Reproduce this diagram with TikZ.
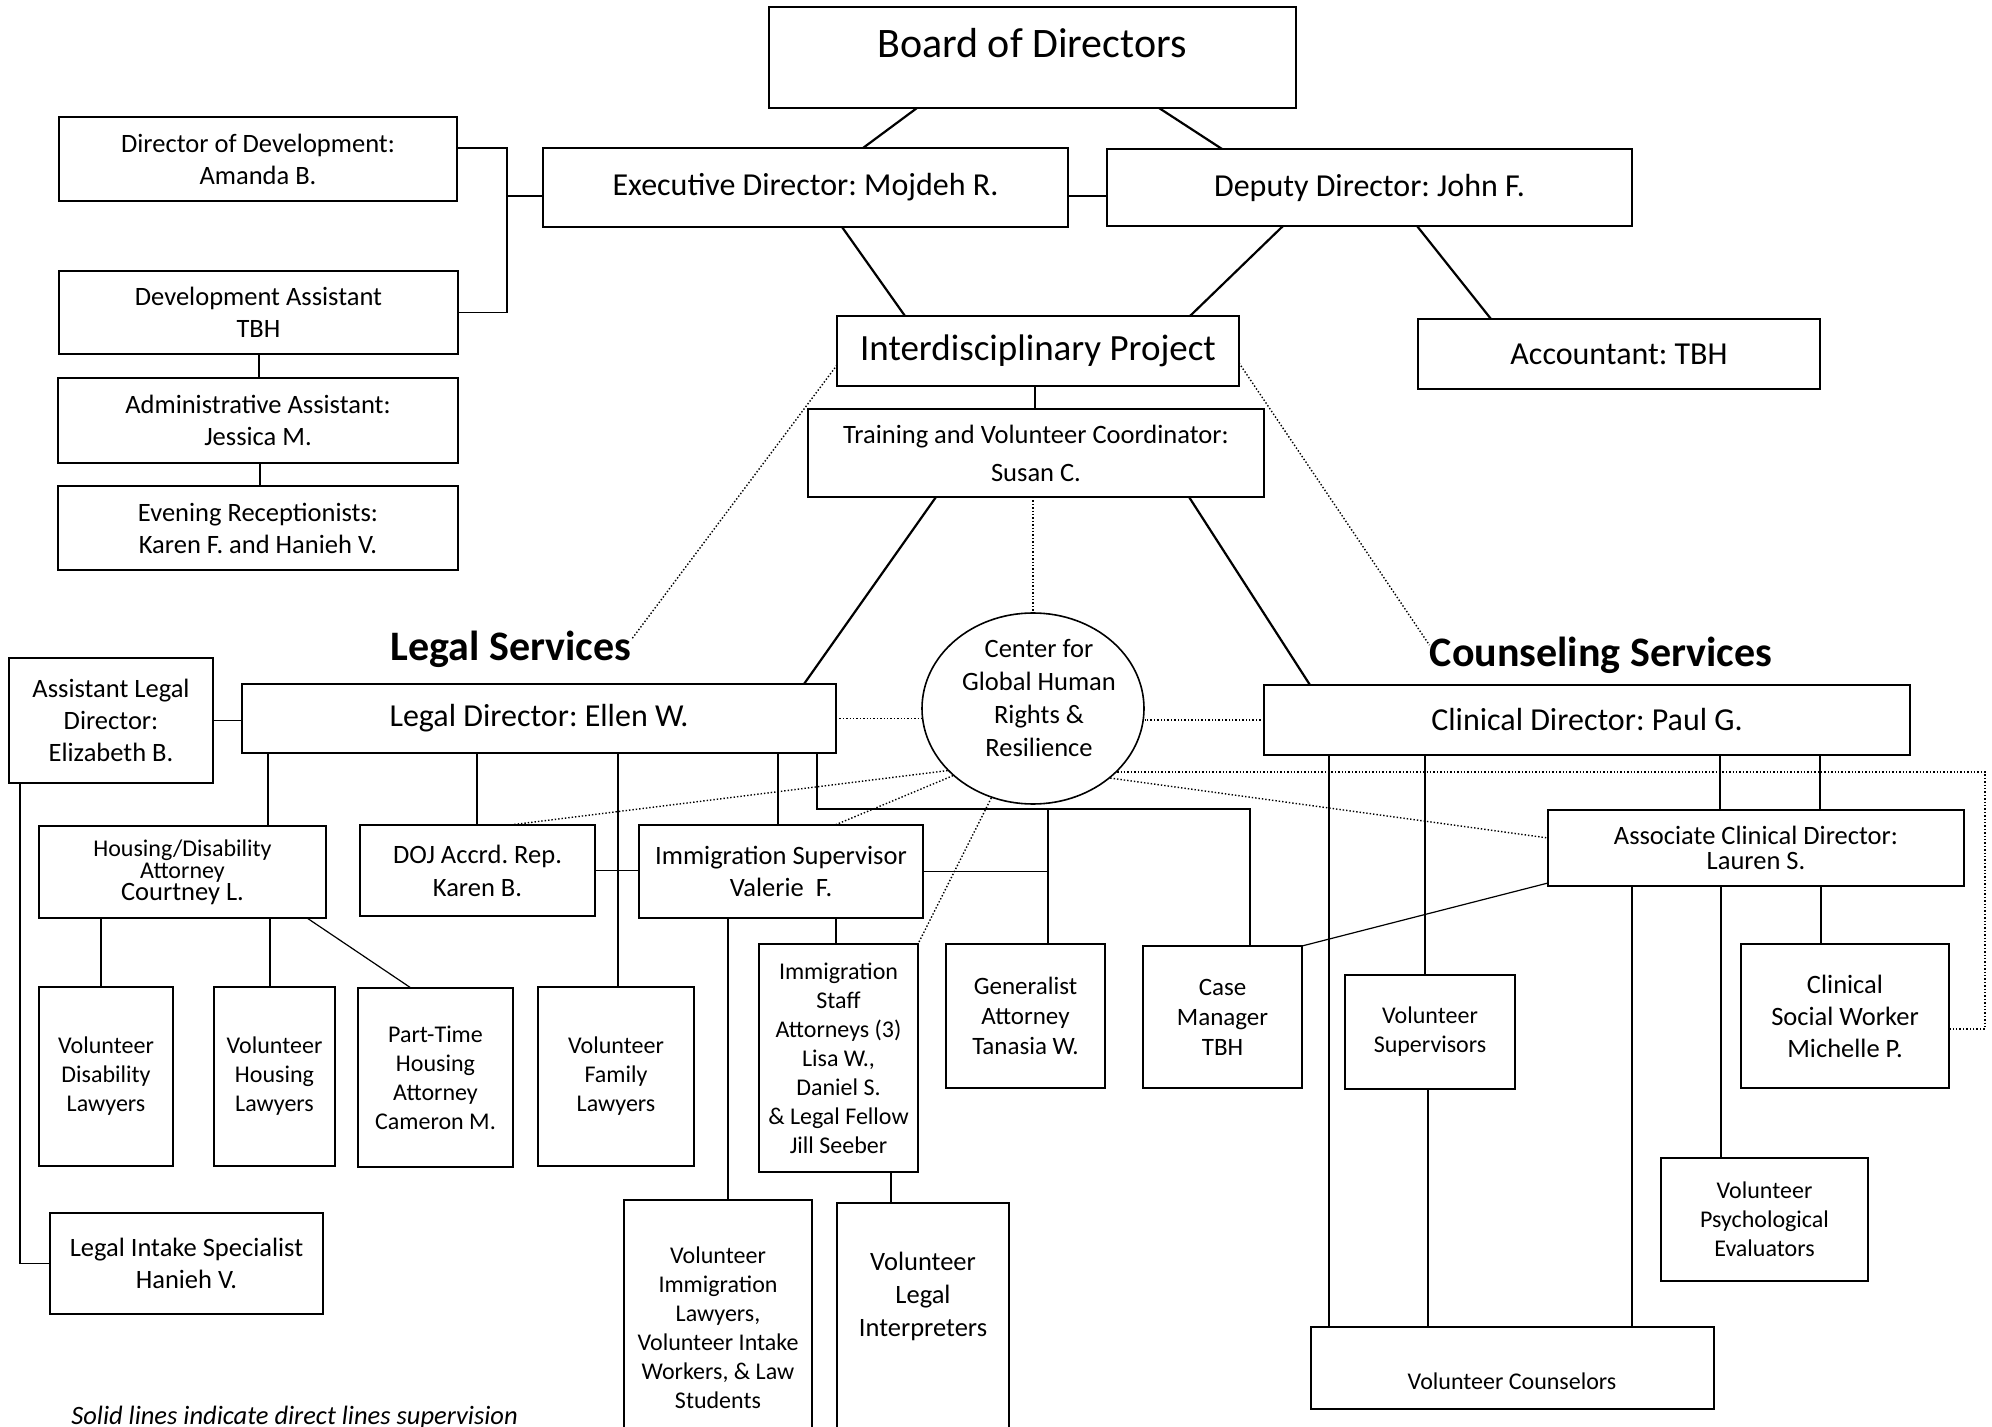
\documentclass[tikz,border=0pt]{standalone}
\usepackage{fontspec}
\setmainfont{Carlito}
\usetikzlibrary{shapes.geometric,calc}
\frenchspacing
\newcommand{\px}{0.5pt}
\newcommand{\orgbox}[7][]{%
\node[orgnode,#1,minimum width={(#5-#3)*\px},minimum height={(#6-#4)*\px}] (#2) at ({(#3+#5)/2},{(#4+#6)/2}) {#7};}

\begin{document}
\begin{tikzpicture}[x=\px,y=-\px,
  fnorm/.style={font=\fontsize{13.25}{16}\selectfont},
  fsmall/.style={font=\fontsize{12}{14.5}\selectfont},
  fmid/.style={font=\fontsize{16}{19}\selectfont},
  orgnode/.style={draw,line width=0.8pt,inner sep=0pt,outer sep=0pt,align=center,fnorm},
  link/.style={line width=0.6pt},
  mainlink/.style={line width=1.1pt},
  dotlink/.style={line width=0.7pt,densely dotted}]
\useasboundingbox (0,0) rectangle (1992,1427);
% top
\orgbox{bod}{769}{7}{1296}{108}{}
\node[font=\fontsize{21}{25}\selectfont,anchor=base] (bodtxt) at (1032,58) {Board of Directors};
\orgbox[fmid]{exec}{543}{148}{1068}{227}{Executive Director: Mojdeh R.}
\orgbox[fmid]{deputy}{1107}{149}{1632}{226}{Deputy Director: John F.}
\orgbox[fmid]{acct}{1418}{319}{1820}{389}{Accountant: TBH}
\orgbox[font=\fontsize{18.5}{22}\selectfont]{idp}{837}{316}{1239}{386}{Interdisciplinary Project}
\orgbox{train}{808}{409}{1264}{497}{Training and Volunteer Coordinator:\\[3pt]Susan C.}
\orgbox{dev}{59}{117}{457}{201}{Director of Development:\\Amanda B.}
\orgbox{devasst}{59}{271}{458}{354}{Development Assistant\\TBH}
\orgbox{admin}{58}{378}{458}{463}{Administrative Assistant:\\Jessica M.}
\orgbox{recep}{58}{486}{458}{570}{Evening Receptionists:\\Karen F. and Hanieh V.}
% legal
\node[font=\fontsize{21}{25}\selectfont\bfseries,anchor=base,inner sep=0pt] (legalhd) at (511,661) {Legal Services};
\orgbox[fmid]{legaldir}{242}{684}{836}{753}{Legal Director: Ellen W.}
\orgbox{asstlegal}{9}{658}{213}{783}{Assistant Legal\\Director:\\Elizabeth B.}
\orgbox[font=\fontsize{12}{11}\selectfont]{housing}{39}{826}{326}{918}{Housing/Disability\\Attorney\\{\fontsize{13.25}{12}\selectfont Courtney L.}}
\orgbox[font=\fontsize{13.25}{16.5}\selectfont]{doj}{360}{825}{595}{916}{DOJ Accrd. Rep.\\Karen B.}
\orgbox{immsup}{639}{825}{923}{918}{Immigration Supervisor\\Valerie\ \ F.}
\orgbox[fsmall]{voldis}{39}{987}{173}{1166}{Volunteer\\Disability\\Lawyers}
\orgbox[fsmall]{volhou}{214}{987}{335}{1166}{Volunteer\\Housing\\Lawyers}
\orgbox[fsmall]{parttime}{358}{988}{513}{1167}{Part-Time\\Housing\\Attorney\\Cameron M.}
\orgbox[fsmall]{volfam}{538}{987}{694}{1166}{Volunteer\\Family\\Lawyers}
\orgbox{intake}{50}{1213}{323}{1314}{Legal Intake Specialist\\Hanieh V.}
\orgbox[fsmall]{volimm}{624}{1200}{812}{1456}{Volunteer\\Immigration\\Lawyers,\\Volunteer Intake\\Workers, \& Law\\Students}
\orgbox[fsmall]{staff}{759}{944}{918}{1172}{Immigration\\Staff\\Attorneys (3)\\Lisa W.,\\Daniel S.\\\& Legal Fellow\\Jill Seeber}
\orgbox{volinterp}{837}{1203}{1009}{1460}{}
\node[font=\fontsize{13.25}{16.5}\selectfont,align=center] (interptxt) at (923,1296) {Volunteer\\Legal\\Interpreters};
\orgbox[font=\fontsize{12.5}{15}\selectfont]{generalist}{946}{944}{1105}{1088}{Generalist\\Attorney\\Tanasia W.}
\orgbox[font=\fontsize{12.5}{15}\selectfont]{casemgr}{1143}{946}{1302}{1088}{Case\\Manager\\TBH}
% center
\node[draw,ellipse,line width=0.8pt,minimum width=111pt,minimum height=95.5pt,inner sep=0pt] (cghrr) at (1033,708.5) {};
\node[align=center,font=\fontsize{13.25}{16.5}\selectfont] (cghrrtxt) at (1039,698) {Center for\\Global Human\\Rights \&\\Resilience};
% counseling
\node[font=\fontsize{21}{25}\selectfont\bfseries,anchor=base,inner sep=0pt] (counshd) at (1601,667) {Counseling Services};
\orgbox[fmid]{clindir}{1264}{685}{1910}{755}{Clinical Director: Paul G.}
\orgbox[font=\fontsize{13.25}{12.5}\selectfont]{assoc}{1548}{810}{1964}{886}{Associate Clinical Director:\\Lauren S.}
\orgbox[fsmall]{volsup}{1345}{975}{1515}{1089}{Volunteer\\Supervisors}
\orgbox{csw}{1741}{944}{1949}{1088}{Clinical\\Social Worker\\Michelle P.}
\orgbox[fsmall]{volpsych}{1661}{1158}{1868}{1281}{Volunteer\\Psychological\\Evaluators}
\orgbox{volcouns}{1311}{1327}{1714}{1409}{}
\node[fsmall,anchor=base] (counstxt) at (1512,1389) {Volunteer Counselors};
\node[font=\fontsize{13.25}{16}\selectfont\itshape,anchor=base west,inner sep=0pt] (note) at (71,1424) {Solid lines indicate direct lines supervision};

% connectors
\coordinate (devbar) at (507,196);
\draw[mainlink] (917,0 |- bod.south) -- (863,0 |- exec.north);
\draw[mainlink] (1159,0 |- bod.south) -- (1222,0 |- deputy.north);
\draw[link] (exec.east |- devbar) -- (deputy.west |- devbar);
\draw[link] (dev.east |- 0,148) -| (devbar |- devasst.east) -- (devasst.east);
\draw[link] (devbar) -- (exec.west |- devbar);
\draw[link] (259,0 |- devasst.south) -- (259,0 |- admin.north);
\draw[link] (260,0 |- admin.south) -- (260,0 |- recep.north);
\draw[mainlink] (842,0 |- exec.south) -- (905,0 |- idp.north);
\draw[mainlink] (1283,0 |- deputy.south) -- (1190,0 |- idp.north);
\draw[mainlink] (1417,0 |- deputy.south) -- (1491,0 |- acct.north);
\draw[link] (1035,0 |- idp.south) -- (1035,0 |- train.north);
\draw[dotlink] (idp.west |- 0,365) -- ([yshift=-4pt]legalhd.north east);
\draw[dotlink] (idp.east |- 0,363) -- ([yshift=-4pt]counshd.north west);
\draw[mainlink] (936,0 |- train.south) -- (804,0 |- legaldir.north);
\draw[mainlink] (1189,0 |- train.south) -- (1310,0 |- clindir.north);
\draw[dotlink] (train.south -| cghrr.north) -- (cghrr.north);
\draw[dotlink] (legaldir.east) -- (legaldir.east -| cghrr.west);
\draw[dotlink] (clindir.west) -- (clindir.west -| cghrr.east);
\draw[link] (asstlegal.east) -- (asstlegal.east -| legaldir.west);
\draw[link] (20,0 |- asstlegal.south) |- (intake.west);
\foreach \xx/\h in {268/housing,477/doj,618/volfam,778/immsup}{
\draw[link] (\xx,0 |- legaldir.south) -- (\xx,0 |- \h.north);
}
\draw[link] (817,0 |- legaldir.south) |- (1250,809) -- (1250,0 |- casemgr.north);
\draw[link] (1048,809) -- (1048,0 |- generalist.north);
\draw[link] (doj.east) -- (doj.east -| immsup.west);
\draw[link] (immsup.east) -- (immsup.east -| 1048,0);
\draw[link] (728,0 |- immsup.south) -- (728,0 |- volimm.north);
\draw[link] (836,0 |- immsup.south) -- (836,0 |- staff.north);
\draw[link] (891,0 |- staff.south) -- (891,0 |- volinterp.north);
\draw[link] (101,0 |- housing.south) -- (101,0 |- voldis.north);
\draw[link] (270,0 |- housing.south) -- (270,0 |- volhou.north);
\draw[link] (307,0 |- housing.south) -- (411,0 |- parttime.north);
\draw[dotlink] (cghrr.216) -- (510,0 |- doj.north);
\draw[dotlink] (cghrr.220) -- (835,0 |- immsup.north);
\draw[dotlink] (cghrr.245) -- (staff.north east);
\draw[dotlink] (cghrr.318) -- (assoc.west |- 0,838);
\draw[dotlink] (cghrr.323) -- (1985,0 |- cghrr.323) |- (csw.east |- 0,1029);
\foreach \xx/\h in {1329/volcouns,1425/volsup,1720/assoc,1820/assoc}{
\draw[link] (\xx,0 |- clindir.south) -- (\xx,0 |- \h.north);
}
\draw[link] (assoc.west |- 0,883) -- (casemgr.north east);
\draw[link] (1428,0 |- volsup.south) -- (1428,0 |- volcouns.north);
\foreach \xx/\h in {1632/volcouns,1721/volpsych,1821/csw}{
\draw[link] (\xx,0 |- assoc.south) -- (\xx,0 |- \h.north);
}
\end{tikzpicture}
\end{document}
